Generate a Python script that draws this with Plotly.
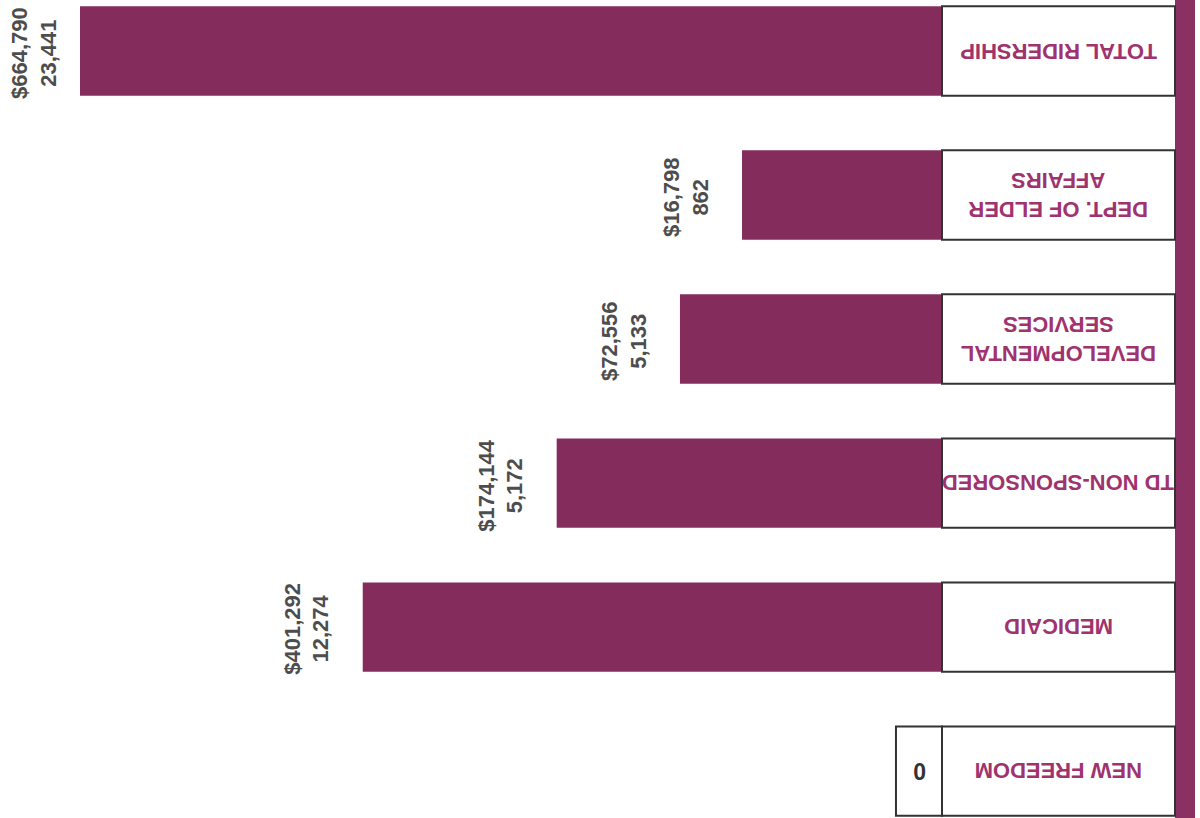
import plotly.graph_objects as go

# ---- data ----
categories = ["TOTAL RIDERSHIP", "DEPT. OF ELDER<br>AFFAIRS", "DEVELOPMENTAL<br>SERVICES",
              "TD NON-SPONSORED", "MEDICAID", "NEW FREEDOM"]
cost = [664790, 16798, 72556, 174144, 401292, 0]
trips = [23441, 862, 5133, 5172, 12274, 0]
# drawn bar lengths (relative units; original chart is not drawn to scale)
bar_length = [100, 23.2, 30.4, 44.7, 67.2, 0]

BAR_COLOR = "#842D5D"
STRIP_COLOR = "#8A3062"
CAT_TEXT = "#A0336E"
VAL_TEXT = "#4d4d4d"
FONT = "Liberation Sans"
LABEL_SHIFT = [-46, -56, -56, -56, -56, -56]

ypos = list(range(len(categories)))
half = 0.31
BOX_END = -27.03
STRIP_END = -29.35
ZERO_BOX = 5.34

fig = go.Figure()
fig.add_trace(go.Bar(
    x=bar_length, y=ypos, orientation="h", base=0, width=2 * half,
    marker=dict(color=BAR_COLOR, line=dict(width=0)), hoverinfo="skip"))

shapes = []
annotations = []
# right strip
shapes.append(dict(type="rect", xref="x", yref="paper", x0=BOX_END, x1=STRIP_END, y0=0, y1=1,
                   fillcolor=STRIP_COLOR, line=dict(width=0), layer="below"))
for i, (cat, c, t, L) in enumerate(zip(categories, cost, trips, bar_length)):
    shapes.append(dict(type="rect", xref="x", yref="y", x0=0, x1=BOX_END,
                       y0=i - half, y1=i + half, fillcolor="white",
                       line=dict(color="#333333", width=2)))
    annotations.append(dict(x=BOX_END / 2, y=i, xref="x", yref="y", text=cat, showarrow=False,
                            textangle=180, font=dict(family=FONT, size=22, color=CAT_TEXT, weight="bold")))
    if c > 0:
        annotations.append(dict(x=L, y=i, xref="x", yref="y", text=f"${c:,}<br>{t:,}",
                                showarrow=False, textangle=-90, xanchor="center", xshift=LABEL_SHIFT[i],
                                yshift=-2,
                                font=dict(family=FONT, size=22, color=VAL_TEXT, weight="bold")))
    else:
        shapes.append(dict(type="rect", xref="x", yref="y", x0=0, x1=ZERO_BOX,
                           y0=i - half, y1=i + half, fillcolor="white",
                           line=dict(color="#333333", width=2)))
        annotations.append(dict(x=ZERO_BOX / 2, y=i, xref="x", yref="y", text=f"{c}",
                                showarrow=False, textangle=180,
                                font=dict(family=FONT, size=23, color="#333333", weight="bold")))

fig.update_layout(
    width=1200, height=818, margin=dict(l=0, r=0, t=0, b=0),
    paper_bgcolor="white", plot_bgcolor="white", showlegend=False,
    xaxis=dict(range=[109.28, -29.93], visible=False, fixedrange=True),
    yaxis=dict(range=[5.326, -0.354], visible=False, fixedrange=True),
    shapes=shapes, annotations=annotations,
)
fig.write_html("out.html", config={"displayModeBar": False},
               post_script="document.body.style.margin='0';document.body.style.overflow='hidden';")
